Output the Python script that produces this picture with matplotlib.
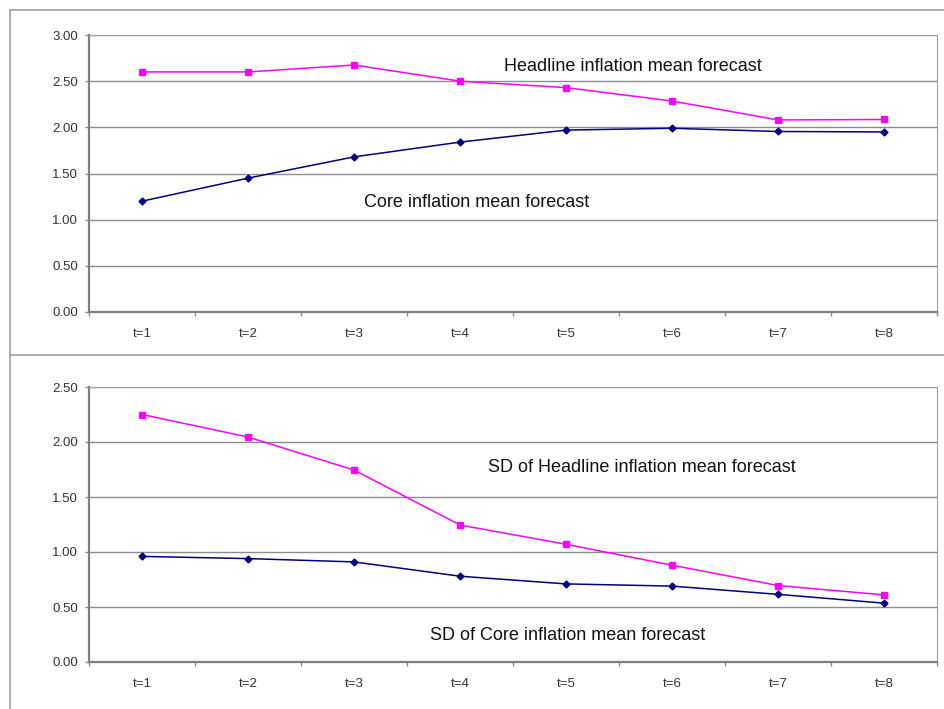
import matplotlib
matplotlib.use("Agg")
import matplotlib.pyplot as plt
from matplotlib.lines import Line2D

plt.rcParams['font.family'] = ['Liberation Sans', 'DejaVu Sans']

# data
periods = ["t=1", "t=2", "t=3", "t=4", "t=5", "t=6", "t=7", "t=8"]
headline_mean = [2.60, 2.60, 2.675, 2.50, 2.43, 2.285, 2.08, 2.085]
core_mean = [1.20, 1.45, 1.68, 1.84, 1.97, 1.99, 1.955, 1.95]
headline_sd = [2.25, 2.045, 1.745, 1.245, 1.07, 0.88, 0.695, 0.61]
core_sd = [0.96, 0.94, 0.91, 0.78, 0.71, 0.69, 0.615, 0.535]

W, H = 944, 709
fig = plt.figure(figsize=(W / 100, H / 100), dpi=100)

GRID = '#8c8c8c'
PINK = '#ff00ff'
NAVY = '#000080'


def px_axes(left, top, right, bottom):
    return fig.add_axes([left / W, 1 - bottom / H, (right - left) / W, (bottom - top) / H])


def style(ax, ymax, yticks):
    x = list(range(1, len(periods) + 1))
    ax.set_xlim(0.5, len(periods) + 0.5)
    ax.set_ylim(0, ymax)
    ax.set_yticks(yticks)
    ax.set_yticklabels([f"{v:.2f}" for v in yticks])
    ax.set_xticks([i + 0.5 for i in range(0, len(periods) + 1)])
    ax.set_xticklabels([])
    ax.set_xticks(x, minor=True)
    ax.set_xticklabels(periods, minor=True)
    ax.tick_params(axis='x', which='major', direction='out', length=3, color=GRID, width=1)
    ax.tick_params(axis='x', which='minor', length=0, pad=11.5, labelsize=9.5, labelcolor='#333333')
    ax.tick_params(axis='y', direction='out', length=3, color=GRID, width=1, pad=5,
                   labelsize=9.5, labelcolor='#333333')
    ax.yaxis.grid(True, color=GRID, linewidth=1)
    ax.set_axisbelow(True)
    for side in ['left', 'bottom']:
        ax.spines[side].set_color('#7f7f7f')
        ax.spines[side].set_linewidth(1.6)
    for side in ['top', 'right']:
        ax.spines[side].set_color('#a0a0a0')
        ax.spines[side].set_linewidth(0.8)
    return x


# top panel
ax1 = px_axes(89, 35, 937, 312)
x = style(ax1, 3.0, [0.0, 0.5, 1.0, 1.5, 2.0, 2.5, 3.0])
ax1.plot(x, headline_mean, color=PINK, marker='s', markersize=5, linewidth=1.1, clip_on=False)
ax1.plot(x, core_mean, color=NAVY, marker='D', markersize=3.5, linewidth=1.1, clip_on=False)
ax1.text(5.63, 2.655, "Headline inflation mean forecast", fontsize=13, ha='center', va='center', color='#111111')
ax1.text(4.16, 1.19, "Core inflation mean forecast", fontsize=13, ha='center', va='center', color='#111111')

# bottom panel
ax2 = px_axes(89, 387, 937, 662)
x = style(ax2, 2.5, [0.0, 0.5, 1.0, 1.5, 2.0, 2.5])
ax2.plot(x, headline_sd, color=PINK, marker='s', markersize=5, linewidth=1.1, clip_on=False)
ax2.plot(x, core_sd, color=NAVY, marker='D', markersize=3.5, linewidth=1.1, clip_on=False)
ax2.text(5.72, 1.77, "SD of Headline inflation mean forecast", fontsize=13, ha='center', va='center', color='#111111')
ax2.text(6.31, 0.24, "SD of Core inflation mean forecast", fontsize=13, ha='right', va='center', color='#111111')

# outer frame lines
for (xs, ys) in [([10, W], [10, 10]), ([10, 10], [10, H]), ([10, W], [355, 355])]:
    fig.add_artist(Line2D([v / W for v in xs], [1 - v / H for v in ys],
                          color='#a0a0a0', linewidth=1.2, transform=fig.transFigure))

fig.savefig("out.png", dpi=100)
